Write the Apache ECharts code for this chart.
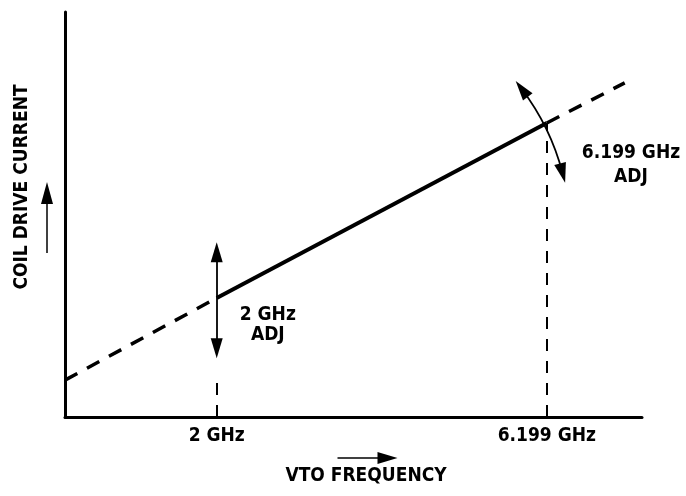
<!DOCTYPE html>
<html>
<head>
<meta charset="utf-8">
<script src="https://cdn.jsdelivr.net/npm/echarts@6/dist/echarts.min.js"></script>
<style>
  html, body { margin: 0; padding: 0; background: #fff; }
  #chart { width: 686px; height: 496px; }
</style>
</head>
<body>
<div id="chart"></div>
<script>
// x in GHz, y in arbitrary current units (0..100)
const tickValues = [2, 6.199];
const lowDash = [[0.07, 9.1], [2, 29.4]];
const solidPart = [[2, 29.4], [6.199, 72.6]];
const highDash = [[6.199, 72.6], [7.19, 82.5]];

// vertical guide lines (x, top y)
const guideLow = [2, 9.1];
const guideHigh = [6.199, 72.6];

// adjustment arrows
const adjLowArrow = [[2, 40.7], [2, 17.0]];
const adjHighArrow = [[5.88, 81.0], [6.4, 60.2]];

// annotation positions
const adjLabels = [
  { text: "2 GHz\nADJ", at: [2.65, 22.7], lh: 19.5 },
  { text: "6.199 GHz\nADJ", at: [7.27, 62.2], lh: 23.5 },
];

const FONT = "DejaVu Sans Condensed";
const ink = "#000";

let chart = echarts.init(document.getElementById("chart"));

let txt = {
  fontFamily: FONT,
  fontSize: 19,
  fontWeight: "bold",
  color: ink,
};

let arrowEnd = { symbol: "triangle", symbolSize: [12, 20] };

let option = {
  backgroundColor: "#fff",
  animation: false,
  grid: {
    left: 65,
    right: 44,
    top: 12,
    bottom: 79,
    outerBoundsMode: "none",
  },
  xAxis: {
    type: "value",
    min: 0.07,
    max: 7.41,
    name: "VTO FREQUENCY",
    nameLocation: "middle",
    nameGap: 50,
    nameTextStyle: Object.assign({ padding: [0, 0, 0, 25] }, txt),
    axisLine: { show: true, lineStyle: { color: ink, width: 3 } },
    axisTick: { show: false },
    splitLine: { show: false },
    axisLabel: Object.assign(
      {
        customValues: tickValues,
        formatter: (v) => v + " GHz",
        margin: 10,
      },
      txt
    ),
  },
  yAxis: {
    type: "value",
    min: 0,
    max: 100,
    name: "COIL DRIVE CURRENT",
    nameLocation: "middle",
    nameRotate: 90,
    nameGap: 33,
    nameTextStyle: Object.assign({ padding: [0, 0, 0, 55] }, txt),
    axisLine: { show: true, lineStyle: { color: ink, width: 3 } },
    axisTick: { show: false },
    axisLabel: { show: false },
    splitLine: { show: false },
  },
  graphic: [
    // little arrow beside the y axis name
    {
      type: "group",
      left: 41,
      top: 182,
      children: [
        { type: "line", shape: { x1: 6, y1: 18, x2: 6, y2: 71 }, style: { stroke: ink, lineWidth: 1.5 } },
        { type: "polygon", shape: { points: [[6, 0], [0, 22], [12, 22]] }, style: { fill: ink } },
      ],
    },
    // little arrow above the x axis name
    {
      type: "group",
      left: 335,
      top: 452,
      children: [
        { type: "line", shape: { x1: 0, y1: 6, x2: 44, y2: 6 }, style: { stroke: ink, lineWidth: 1.5 } },
        { type: "polygon", shape: { points: [[60, 6], [40, 0], [40, 12]] }, style: { fill: ink } },
      ],
    },
  ],
  series: [
    {
      type: "line",
      data: lowDash,
      symbol: "none",
      lineStyle: { color: ink, width: 3.5, type: [14, 11] },
      markLine: {
        silent: true,
        symbol: "none",
        label: { show: false },
        lineStyle: { color: ink, width: 2, type: [12, 10] },
        data: [
          [{ coord: [guideLow[0], 0] }, { coord: guideLow }],
          [{ coord: [guideHigh[0], 0] }, { coord: guideHigh }],
        ],
      },
    },
    {
      type: "line",
      data: solidPart,
      symbol: "none",
      lineStyle: { color: ink, width: 4, type: "solid" },
      markLine: {
        silent: true,
        label: { show: false },
        data: [
          [
            Object.assign({ coord: adjLowArrow[0] }, arrowEnd),
            Object.assign({ coord: adjLowArrow[1] }, arrowEnd),
          ],
        ],
        lineStyle: { color: ink, width: 1.8, type: "solid" },
      },
      markPoint: {
        symbol: "circle",
        symbolSize: 0,
        silent: true,
        data: adjLabels.map((d) => ({
          coord: d.at,
          label: Object.assign(
            {
              show: true,
              position: "inside",
              formatter: d.text,
              lineHeight: d.lh,
              align: "center",
            },
            txt
          ),
        })),
      },
    },
    {
      type: "line",
      data: highDash,
      symbol: "none",
      lineStyle: { color: ink, width: 3.5, type: [14, 11] },
    },
    {
      // curved adjust arrow at 6.199 GHz
      type: "lines",
      coordinateSystem: "cartesian2d",
      silent: true,
      symbol: ["triangle", "triangle"],
      symbolSize: [[12, 20], [12, 20]],
      lineStyle: { color: ink, width: 1.8, opacity: 1, curveness: 0.1 },
      data: [{ coords: adjHighArrow }],
    },
  ],
};

chart.setOption(option);
</script>
</body>
</html>
